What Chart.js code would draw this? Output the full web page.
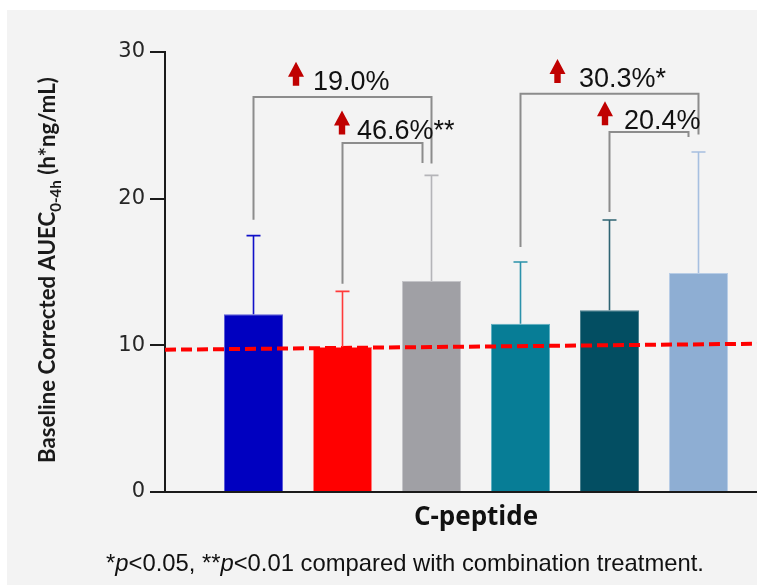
<!DOCTYPE html>
<html><head><meta charset="utf-8">
<script src="https://cdn.jsdelivr.net/npm/chart.js@4.4.1/dist/chart.umd.min.js"></script>
<style>
html,body{margin:0;padding:0;overflow:hidden;background:#fff;width:757px;height:585px}
#wrap{position:absolute;left:0;top:0;width:757px;height:585px;overflow:hidden}
canvas{display:block}
</style></head><body>
<div id="wrap"><canvas id="c" width="787" height="585" style="width:787px;height:585px"></canvas></div>
<script>
// ---------- data ----------
const categories = ['C-peptide'];
const groupNames = ['Group 1', 'Group 2', 'Group 3', 'Group 4', 'Group 5', 'Group 6'];
const means = [12.12, 9.89, 14.38, 11.48, 12.39, 14.93];
const sds = [5.36, 3.79, 7.21, 4.20, 6.16, 8.25];
const refLine = [9.70, 10.13];          // red dashed reference: value at left edge, value at right edge of plot
const yTickValues = [0, 10, 20, 30];
const yTitleMain = 'Baseline Corrected AUEC';
const yTitleSub = '0-4h';
const yTitleTail = ' (h*ng/mL)';
// comparisons: bar indices, bracket top, leg ends (axis values), label text, label baseline (axis value)
const cmpFrom = [0, 1, 3, 4];
const cmpTo = [2, 2, 5, 5];
const cmpTop = [26.93, 23.80, 27.16, 24.55];
const cmpLeftEnd = [18.57, 14.20, 16.70, 19.09];
const cmpRightEnd = [22.39, 22.43, 24.37, 24.20];
const cmpLabels = ['19.0%', '46.6%**', '30.3%*', '20.4%'];
const cmpLabelY = [27.43, 24.10, 27.61, 24.73];

// ---------- styles ----------
const barColors = ['#0000c0', '#ff0000', '#a0a0a5', '#077d96', '#034e62', '#8eaed3'];
const barBorders = ['#5c5cd6', '#ff7a7a', '#c4c4c8', '#5fb0c2', '#4a7f8d', '#b8cde6'];
const errColors = ['#1010c8', '#ff3a3a', '#b4b4b8', '#2b92ab', '#2f6473', '#a6bfe0'];
const cmpRightShift = [0, -9, 0, -10];      // px
const cmpArrowDx = [42.5, -0.5, 37, -4.5];    // px from left bar centre
const cmpTextDx = [59.5, 14.5, 58.5, 14.5];   // px from left bar centre

const bgPlugin = {
  id: 'bg',
  beforeDraw(chart) {
    const ctx = chart.ctx;
    ctx.save();
    ctx.fillStyle = '#ffffff';
    ctx.fillRect(0, 0, chart.width, chart.height);
    ctx.fillStyle = '#f3f3f3';
    ctx.fillRect(7, 10, chart.width - 7, chart.height - 10);
    ctx.restore();
  }
};

const annoPlugin = {
  id: 'anno',
  afterDatasetsDraw(chart) {
    const ctx = chart.ctx, ys = chart.scales.y, area = chart.chartArea;
    const cx = i => chart.getDatasetMeta(i).data[0].x;
    ctx.save();
    // red dashed reference line
    ctx.save();
    ctx.beginPath();
    ctx.rect(area.left, area.top, area.right - area.left, area.bottom - area.top);
    ctx.clip();
    ctx.strokeStyle = '#ff0000';
    ctx.lineWidth = 4;
    ctx.setLineDash([11, 5]);
    ctx.beginPath();
    ctx.moveTo(area.left, ys.getPixelForValue(refLine[0]));
    ctx.lineTo(area.right, ys.getPixelForValue(refLine[1]));
    ctx.stroke();
    ctx.restore();
    // error bars
    means.forEach((m, i) => {
      const x = cx(i);
      const y0 = ys.getPixelForValue(m), y1 = ys.getPixelForValue(m + sds[i]);
      ctx.strokeStyle = errColors[i];
      ctx.lineWidth = 1.6;
      ctx.beginPath();
      ctx.moveTo(x, y0); ctx.lineTo(x, y1);
      ctx.moveTo(x - 7, y1); ctx.lineTo(x + 7, y1);
      ctx.stroke();
    });
    // brackets
    ctx.strokeStyle = '#8c8c8c';
    ctx.lineWidth = 2;
    cmpFrom.forEach((f, k) => {
      const xl = cx(f), xr = cx(cmpTo[k]) + cmpRightShift[k];
      const yt = ys.getPixelForValue(cmpTop[k]);
      ctx.beginPath();
      ctx.moveTo(xl, ys.getPixelForValue(cmpLeftEnd[k]));
      ctx.lineTo(xl, yt);
      ctx.lineTo(xr, yt);
      ctx.lineTo(xr, ys.getPixelForValue(cmpRightEnd[k]));
      ctx.stroke();
      // label
      const yb = ys.getPixelForValue(cmpLabelY[k]);
      ctx.fillStyle = '#111111';
      ctx.font = '27px "Liberation Sans", Arial, sans-serif';
      ctx.textBaseline = 'alphabetic';
      ctx.textAlign = 'left';
      ctx.fillText(cmpLabels[k], xl + cmpTextDx[k], yb);
      // arrow
      const ax = xl + cmpArrowDx[k], ab = yb - 4;
      ctx.fillStyle = '#c00000';
      ctx.beginPath();
      ctx.moveTo(ax - 3.2, ab);
      ctx.lineTo(ax - 3.2, ab - 9);
      ctx.lineTo(ax - 8, ab - 9);
      ctx.lineTo(ax, ab - 24);
      ctx.lineTo(ax + 8, ab - 9);
      ctx.lineTo(ax + 3.2, ab - 9);
      ctx.lineTo(ax + 3.2, ab);
      ctx.closePath();
      ctx.fill();
    });
    ctx.restore();
  },
  afterDraw(chart) {
    const ctx = chart.ctx;
    ctx.save();
    // y axis title (rotated, with subscript)
    ctx.translate(55, 270);
    ctx.rotate(-Math.PI / 2);
    let size = 20;
    const fam = 'Lato, "Open Sans", sans-serif';
    const measure = s => {
      ctx.font = 'bold ' + s + 'px ' + fam;
      const a = ctx.measureText(yTitleMain).width, c = ctx.measureText(yTitleTail).width;
      ctx.font = 'bold ' + (s * 0.68) + 'px ' + fam;
      const b = ctx.measureText(yTitleSub).width;
      return [a, b, c];
    };
    let w = measure(size);
    size = size * 386 / (w[0] + w[1] + w[2]);
    w = measure(size);
    const total = w[0] + w[1] + w[2];
    let x = -total / 2;
    ctx.fillStyle = '#1a1a1a';
    ctx.textBaseline = 'alphabetic';
    ctx.textAlign = 'left';
    ctx.font = 'bold ' + size + 'px ' + fam;
    ctx.fillText(yTitleMain, x, 0); x += w[0];
    ctx.font = 'bold ' + (size * 0.68) + 'px ' + fam;
    ctx.fillText(yTitleSub, x, size * 0.28); x += w[1];
    ctx.font = 'bold ' + size + 'px ' + fam;
    ctx.fillText(yTitleTail, x, 0);
    ctx.restore();

    // footnote
    ctx.save();
    const segs = [['*', false], ['p', true], ['<0.05, **', false], ['p', true], ['<0.01 compared with combination treatment.', false]];
    const fsize = 23.8;
    const ff = '"Liberation Sans", Arial, sans-serif';
    const widths = segs.map(s => { ctx.font = (s[1] ? 'italic ' : '') + fsize + 'px ' + ff; return ctx.measureText(s[0]).width; });
    const tot = widths.reduce((a, b) => a + b, 0);
    let fx = 405 - tot / 2;
    ctx.fillStyle = '#111111';
    ctx.textBaseline = 'alphabetic';
    segs.forEach((s, i) => {
      ctx.font = (s[1] ? 'italic ' : '') + fsize + 'px ' + ff;
      ctx.fillText(s[0], fx, 571);
      fx += widths[i];
    });
    ctx.restore();
  }
};

const datasets = means.map((m, i) => ({
  type: 'bar',
  label: groupNames[i],
  data: [m],
  backgroundColor: barColors[i],
  borderColor: barBorders[i],
  borderWidth: 1,
  categoryPercentage: 0.8585,
  barPercentage: 0.663
}));

new Chart(document.getElementById('c'), {
  type: 'bar',
  data: { labels: categories, datasets },
  options: {
    responsive: false,
    devicePixelRatio: 1,
    animation: false,
    layout: { padding: { top: 52, left: 0, right: 0, bottom: 0 } },
    plugins: { legend: { display: false }, tooltip: { enabled: false } },
    scales: {
      x: {
        type: 'category',
        offset: true,
        grid: { display: false },
        border: { display: true, color: '#1a1a1a', width: 2 },
        ticks: { color: '#111111', font: { family: '"Open Sans", sans-serif', size: 26, weight: 'bold' }, padding: 2 },
        afterFit(s) { s.height = 93; }
      },
      y: {
        min: 0, max: 30,
        afterBuildTicks(s) { s.ticks = yTickValues.map(v => ({ value: v })); },
        ticks: { color: '#262626', font: { family: '"DejaVu Sans", Verdana, sans-serif', size: 21 }, padding: 5 },
        grid: { display: true, drawOnChartArea: false, drawTicks: true, tickLength: 15, color: '#1a1a1a', lineWidth: 2 },
        border: { display: true, color: '#1a1a1a', width: 2 },
        afterFit(s) { s.width = 165; }
      }
    }
  },
  plugins: [bgPlugin, annoPlugin]
});
</script>
</body></html>
